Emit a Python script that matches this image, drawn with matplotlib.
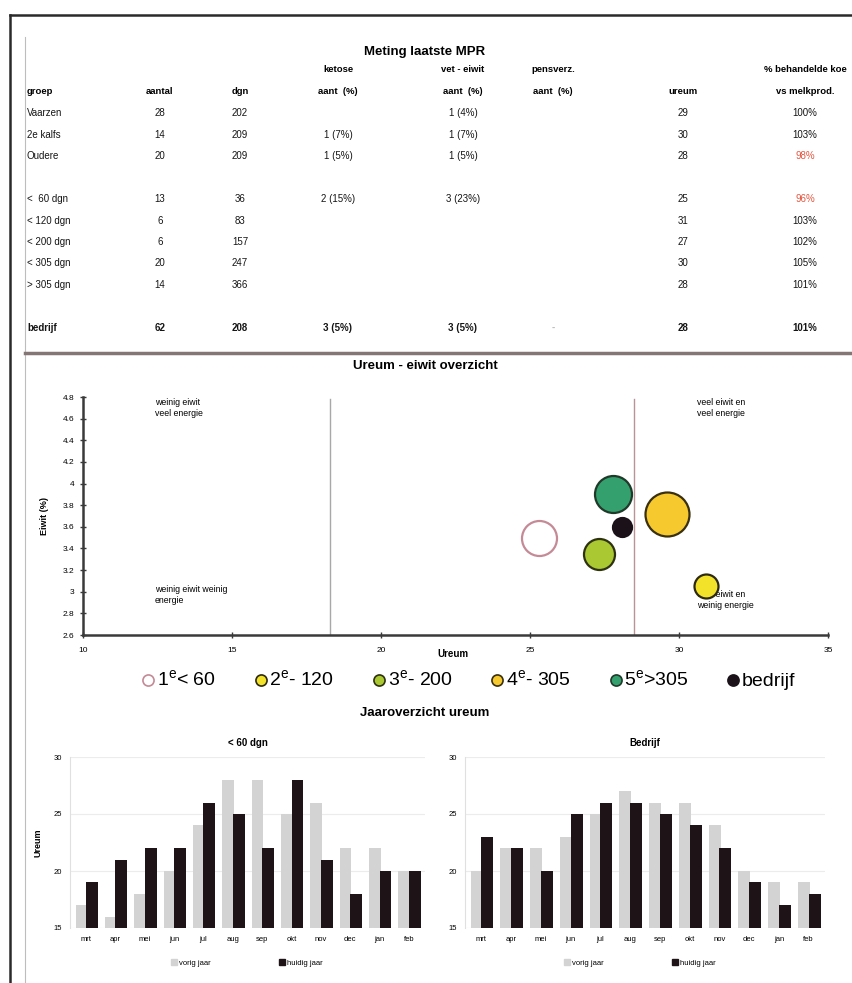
import numpy as np
import matplotlib.pyplot as plt
from matplotlib.lines import Line2D
from matplotlib.patches import Patch

plt.rcParams['font.family'] = ['Liberation Sans', 'DejaVu Sans']
plt.rcParams['mathtext.fontset'] = 'custom'
plt.rcParams['mathtext.rm'] = 'Liberation Sans'

W, H = 853, 983

# ---- table: Meting laatste MPR ----
table_title = "Meting laatste MPR"
header_top = ["", "", "", "ketose", "vet - eiwit", "pensverz.", "", "% behandelde koe"]
header_bottom = ["groep", "aantal", "dgn", "aant  (%)", "aant  (%)", "aant  (%)", "ureum", "vs melkprod."]
groep = ["Vaarzen", "2e kalfs", "Oudere", "", "<  60 dgn", "< 120 dgn", "< 200 dgn",
         "< 305 dgn", "> 305 dgn", "", "bedrijf"]
aantal = ["28", "14", "20", "", "13", "6", "6", "20", "14", "", "62"]
dgn = ["202", "209", "209", "", "36", "83", "157", "247", "366", "", "208"]
ketose = ["", "1 (7%)", "1 (5%)", "", "2 (15%)", "", "", "", "", "", "3 (5%)"]
vet_eiwit = ["1 (4%)", "1 (7%)", "1 (5%)", "", "3 (23%)", "", "", "", "", "", "3 (5%)"]
pensverz = ["", "", "", "", "", "", "", "", "", "", "-"]
ureum_tab = ["29", "30", "28", "", "25", "31", "27", "30", "28", "", "28"]
pct_melk = ["100%", "103%", "98%", "", "96%", "103%", "102%", "105%", "101%", "", "101%"]

# ---- scatter: Ureum - eiwit overzicht ----
scat_labels = [r"1$^{\mathrm{e}}$< 60", r"2$^{\mathrm{e}}$- 120", r"3$^{\mathrm{e}}$- 200",
               r"4$^{\mathrm{e}}$- 305", r"5$^{\mathrm{e}}$>305", "bedrijf"]
scat_ureum = [25.3, 30.9, 27.3, 29.6, 27.8, 28.1]
scat_eiwit = [3.50, 3.05, 3.35, 3.72, 3.90, 3.60]
scat_diam_px = [35, 24, 31, 44, 37, 19]
scat_face = ["white", "#f2e22a", "#a9c832", "#f6c92e", "#34a06e", "#1a1218"]
scat_edge = ["#c48a96", "#2e2a10", "#2e3210", "#3a3010", "#203a2a", "#1a1218"]

# ---- bars: Jaaroverzicht ureum ----
maanden = ["mrt", "apr", "mei", "jun", "jul", "aug", "sep", "okt", "nov", "dec", "jan", "feb"]
lt60_vorig = [17, 16, 18, 20, 24, 28, 28, 25, 26, 22, 22, 20]
lt60_huidig = [19, 21, 22, 22, 26, 25, 22, 28, 21, 18, 20, 20]
bedr_vorig = [20, 22, 22, 23, 25, 27, 26, 26, 24, 20, 19, 19]
bedr_huidig = [23, 22, 20, 25, 26, 26, 25, 24, 22, 19, 17, 18]


def fx(x):
    return x / W


def fy(y):
    return 1 - y / H


def rect(x0, y0, x1, y1):
    return [fx(x0), fy(y1), (x1 - x0) / W, (y1 - y0) / H]


fig = plt.figure(figsize=(W / 100, H / 100), dpi=100)

# outer frame + dividers
fig.add_artist(Line2D([fx(10), fx(853)], [fy(15), fy(15)], color="#2a2a2a", lw=1.8))
fig.add_artist(Line2D([fx(10), fx(10)], [fy(15), fy(983)], color="#2a2a2a", lw=1.8))
fig.add_artist(Line2D([fx(25), fx(25)], [fy(37), fy(983)], color="#bdbdbd", lw=0.8))
fig.add_artist(Line2D([fx(25), fx(853)], [fy(353), fy(353)], color="#857676", lw=2.5))

# table text
col_x = [27, 160, 240, 338, 463, 553, 683, 805]
fig.text(fx(425), fy(52), table_title, ha="center", va="center", fontsize=9.5, weight="bold")
for cx, t in zip(col_x, header_top):
    if t:
        fig.text(fx(cx), fy(70), t, ha="center", va="center", fontsize=6.8, weight="bold")
for i, t in enumerate(header_bottom):
    fig.text(fx(col_x[i]), fy(92), t, ha="left" if i == 0 else "center", va="center",
             fontsize=6.8, weight="bold")

columns = [groep, aantal, dgn, ketose, vet_eiwit, pensverz, ureum_tab, pct_melk]
for r in range(len(groep)):
    y = 113 + r * 21.5
    bold = groep[r] == "bedrijf"
    for c, col in enumerate(columns):
        t = col[r]
        if not t:
            continue
        color = "#151515"
        if c == 7 and t in ("98%", "96%"):
            color = "#e5553f"
        if c == 5:
            color = "#bbbbbb"
        fig.text(fx(col_x[c]), fy(y), t, ha="left" if c == 0 else "center", va="center",
                 fontsize=7, color=color, weight="bold" if bold else "normal")

# scatter chart
fig.text(fx(425), fy(366), "Ureum - eiwit overzicht", ha="center", va="center",
         fontsize=9.5, weight="bold")
ax = fig.add_axes(rect(83, 397, 828, 635))
ax.set_xlim(10, 35)
ax.set_ylim(2.6, 4.8)
for s in ["top", "right"]:
    ax.spines[s].set_visible(False)
for s in ["left", "bottom"]:
    ax.spines[s].set_linewidth(1.8)
    ax.spines[s].set_color("#3a3a3a")
yt = np.round(np.arange(2.6, 4.81, 0.2), 1)
ax.set_yticks(yt)
ax.set_yticklabels([f"{v:g}" for v in yt])
ax.set_xticks([10, 15, 20, 25, 30, 35])
ax.tick_params(axis="both", direction="inout", length=5, width=1, labelsize=6, color="#3a3a3a")
ax.tick_params(axis="x", pad=6)
ax.set_ylabel("Eiwit (%)", fontsize=6.5, weight="bold", labelpad=10)
ax.text(22.4, 2.47, "Ureum", ha="center", va="top", fontsize=7, weight="bold")
ax.plot([18.3, 18.3], [2.6, 4.78], color="#a8a8a8", lw=1)
ax.plot([28.5, 28.5], [2.6, 4.78], color="#b89494", lw=1)
ax.text(12.4, 4.79, "weinig eiwit\nveel energie", fontsize=6.3, va="top", linespacing=1.3)
ax.text(12.4, 3.06, "weinig eiwit weinig\nenergie", fontsize=6.3, va="top", linespacing=1.3)
ax.text(30.6, 4.79, "veel eiwit en\nveel energie", fontsize=6.3, va="top", linespacing=1.3)
ax.text(30.6, 3.02, "veel eiwit en\nweinig energie", fontsize=6.3, va="top", linespacing=1.3)
sizes = [(d * 0.72) ** 2 for d in scat_diam_px]
for xu, ye, s, fc, ec in zip(scat_ureum, scat_eiwit, sizes, scat_face, scat_edge):
    ax.scatter(xu, ye, s=s, c=fc, edgecolors=ec, linewidths=1.6, zorder=3)

handles = [Line2D([], [], marker="o", ls="", markersize=8, markerfacecolor=fc,
                  markeredgecolor=ec, markeredgewidth=1.2)
           for fc, ec in zip(scat_face, scat_edge)]
fig.legend(handles, scat_labels, loc="center", bbox_to_anchor=(fx(468), fy(680)), ncol=6,
           frameon=False, fontsize=14, handletextpad=0.05, columnspacing=1.9,
           handlelength=0.8)

# bar charts
fig.text(fx(425), fy(713), "Jaaroverzicht ureum", ha="center", va="center", fontsize=9.5,
         weight="bold")


def bar_panel(box, title, vorig, huidig, ylabel, leg_x):
    bx = fig.add_axes(rect(*box))
    x = np.arange(len(maanden))
    bx.bar(x - 0.16, np.array(vorig) - 15, 0.4, bottom=15, color="#d3d3d3", zorder=2)
    bx.bar(x + 0.2, np.array(huidig) - 15, 0.4, bottom=15, color="#1e1418", zorder=3)
    bx.set_ylim(15, 30)
    bx.set_xlim(-0.55, 11.55)
    bx.set_yticks([15, 20, 25, 30])
    bx.set_xticks(x)
    bx.set_xticklabels(maanden)
    bx.tick_params(axis="both", length=0, labelsize=5.5, pad=6)
    for s in ["top", "right", "bottom"]:
        bx.spines[s].set_visible(False)
    bx.spines["left"].set_color("#e0e0e0")
    bx.grid(axis="y", color="#ececec", lw=0.8, zorder=0)
    bx.set_axisbelow(True)
    bx.set_title(title, fontsize=7, weight="bold", pad=8)
    if ylabel:
        bx.set_ylabel(ylabel, fontsize=6.5, weight="bold", labelpad=8)
    fig.legend([Patch(color="#d3d3d3"), Patch(color="#1e1418")], ["vorig jaar", "huidig jaar"],
               loc="center", bbox_to_anchor=(fx(leg_x), fy(963)), ncol=2, frameon=False,
               fontsize=5.5, handlelength=0.8, handleheight=0.8, handletextpad=0.2,
               columnspacing=9)
    return bx


bar_panel((70, 757, 425, 928), "< 60 dgn", lt60_vorig, lt60_huidig, "Ureum", 247)
bar_panel((465, 757, 825, 928), "Bedrijf", bedr_vorig, bedr_huidig, "", 640)

fig.savefig("out.png", dpi=100)
